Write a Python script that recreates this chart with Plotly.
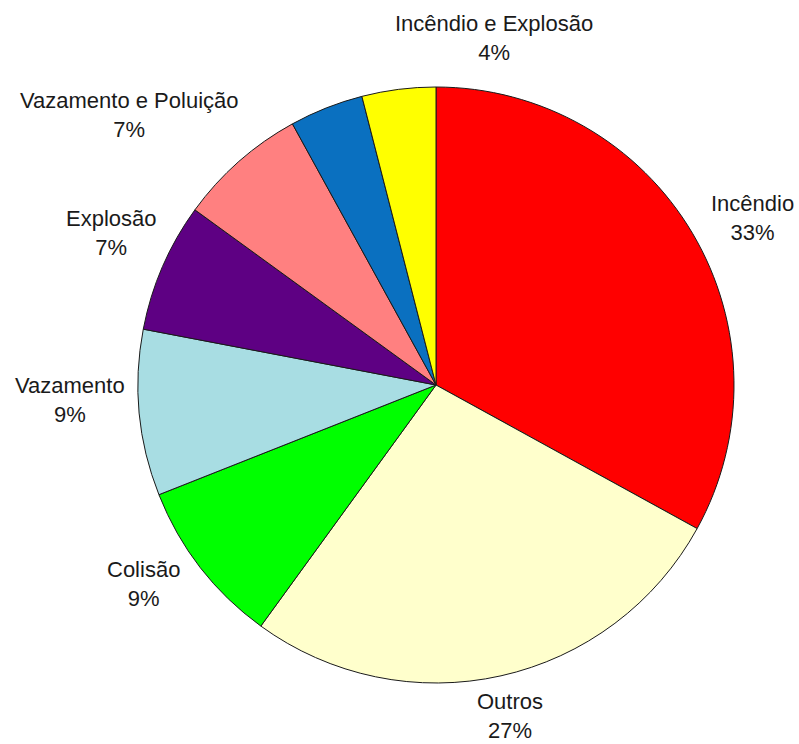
import plotly.graph_objects as go

# Slices in drawing order, clockwise from 12 o'clock
categorias = ["Incêndio", "Outros", "Colisão", "Vazamento", "Explosão",
              "Vazamento e Poluição", "", "Incêndio e Explosão"]
percentuais = [33, 27, 9, 9, 7, 7, 4, 4]
cores = ["#FF0000", "#FFFFCC", "#00FF00", "#A8DDE3", "#5E0083",
         "#FF8080", "#0A70C0", "#FFFF00"]

# Label block centres in pixels (x, y from top), one per slice
posicoes_rotulos = [(752, 218), (510, 716), (143, 584), (70, 400),
                    (111, 233), (129, 115), None, (494, 38)]

W, H = 799, 744
L, R, T, B = 138, 65, 87, 61
pw, ph = W - L - R, H - T - B

fig = go.Figure(go.Pie(
    values=percentuais,
    sort=False,
    direction="clockwise",
    rotation=0,
    textinfo="none",
    hoverinfo="skip",
    marker=dict(colors=cores, line=dict(color="#1a1a1a", width=1)),
    showlegend=False,
))

for nome, v, pos in zip(categorias, percentuais, posicoes_rotulos):
    if not nome or pos is None:
        continue
    px, py = pos
    fig.add_annotation(
        x=(px - L) / pw, y=(H - B - py) / ph,
        xref="paper", yref="paper",
        text=f"{nome}<br>{v}%",
        showarrow=False,
        xanchor="center", yanchor="middle",
        align="center",
        font=dict(family="Liberation Sans, Arial, sans-serif", size=22, color="#1a1a1a"),
    )

fig.update_layout(
    width=W, height=H,
    margin=dict(l=L, r=R, t=T, b=B, pad=0),
    paper_bgcolor="white",
    plot_bgcolor="white",
)

fig.write_html("out.html")
